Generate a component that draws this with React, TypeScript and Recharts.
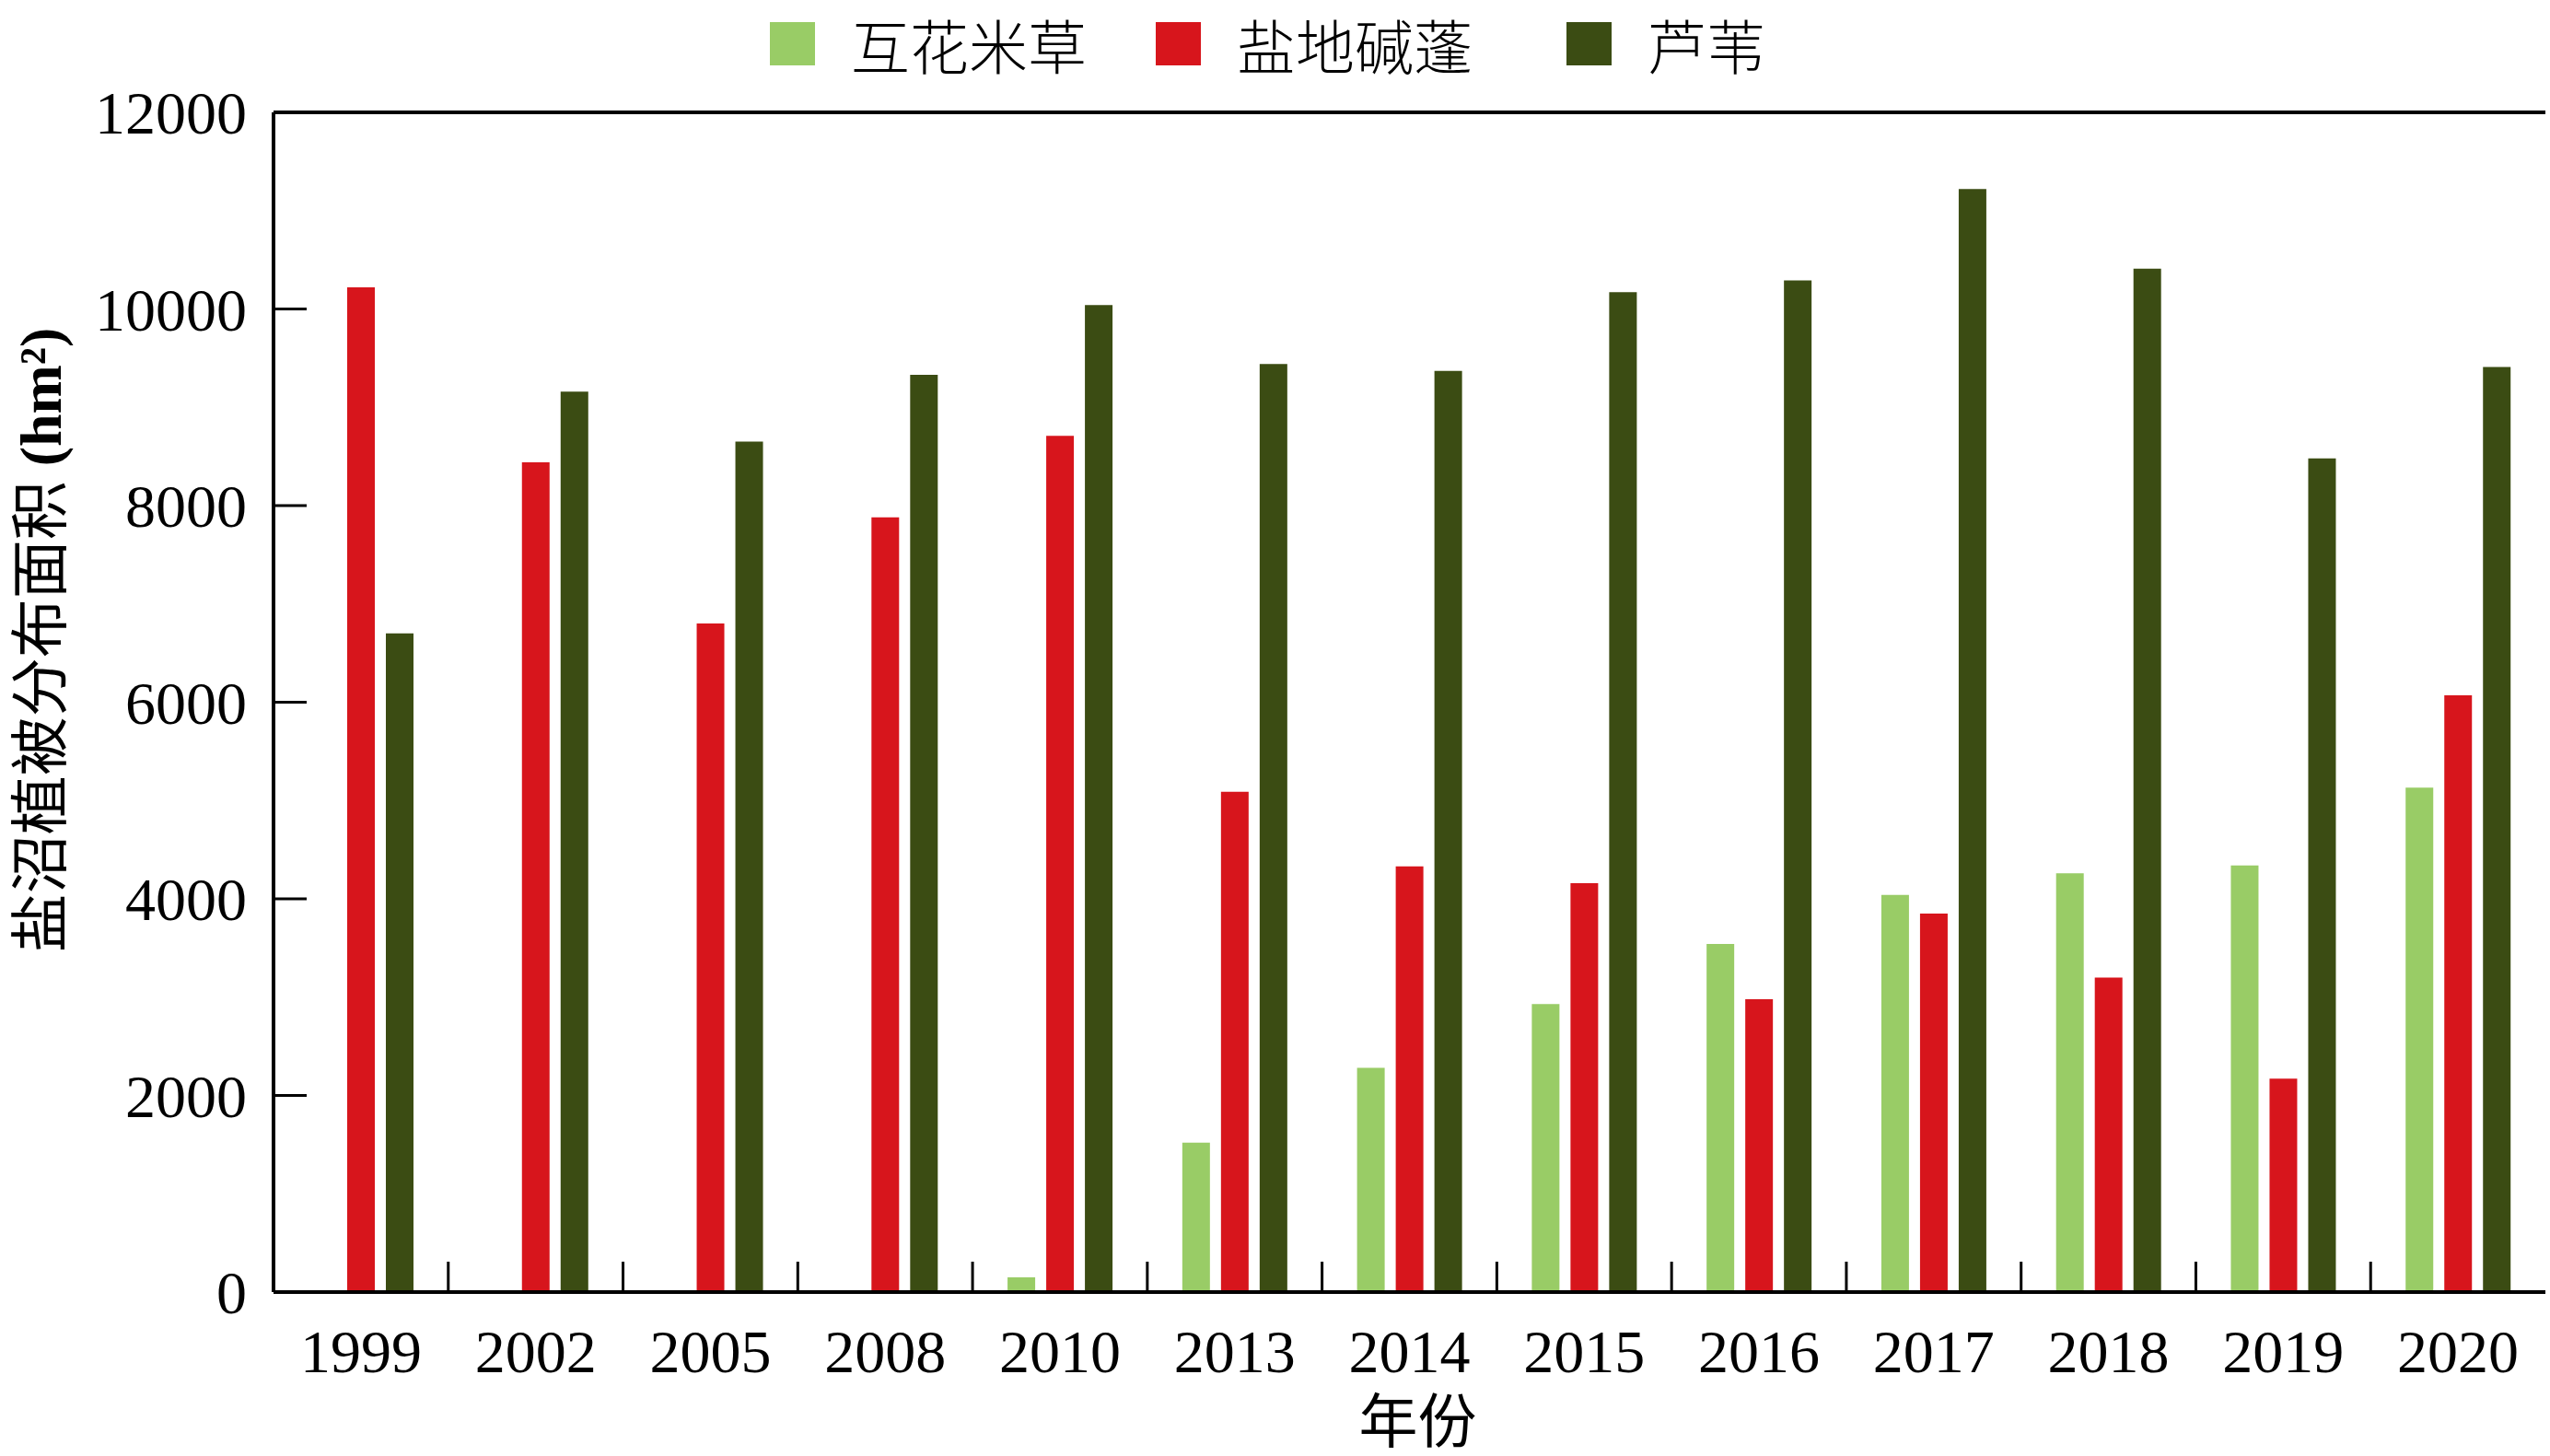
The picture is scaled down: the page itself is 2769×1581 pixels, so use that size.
import React from 'react';
import { BarChart, Bar, XAxis, YAxis, ReferenceLine } from 'recharts';

const categories = ['1999', '2002', '2005', '2008', '2010', '2013', '2014', '2015', '2016', '2017', '2018', '2019', '2020'];
const spartina = [0, 0, 0, 0, 150, 1520, 2280, 2930, 3540, 4040, 4260, 4340, 5130];
const suaeda = [10220, 8440, 6800, 7880, 8710, 5090, 4330, 4160, 2980, 3850, 3200, 2170, 6070];
const phragmites = [6700, 9160, 8650, 9330, 10040, 9440, 9370, 10170, 10290, 11220, 10410, 8480, 9410];
const yTicks = [0, 2000, 4000, 6000, 8000, 10000, 12000];

const seriesNames = ['互花米草', '盐地碱蓬', '芦苇'];
const seriesColors = ['#99CC66', '#D7151C', '#3B4C13'];

const data = categories.map((c, i) => ({
  year: c,
  s0: spartina[i],
  s1: suaeda[i],
  s2: phragmites[i],
}));

const W = 2769;
const H = 1581;
const MARGIN = { top: 122, right: 5, bottom: 0, left: 97 };
const YAXIS_W = 200;
const XAXIS_H = 178;
const PLOT_W = W - MARGIN.left - MARGIN.right - YAXIS_W;
const BAND = PLOT_W / categories.length;
const FONT = "'Liberation Serif', 'Times New Roman', 'Noto Sans CJK SC', serif";
const CJK = "'Noto Sans CJK SC', sans-serif";

const XTick = (props: any) => {
  const { x, y, payload } = props;
  const half = BAND / 2;
  return (
    <g>
      <line x1={x - half} x2={x - half} y1={y} y2={y - 33} stroke="#000" strokeWidth={3} />
      <text x={x} y={y + 87} textAnchor="middle" fontFamily={FONT} fontSize={66} fill="#000">
        {payload.value}
      </text>
    </g>
  );
};

const YTick = (props: any) => {
  const { x, y, payload } = props;
  return (
    <g>
      <line x1={x} x2={x + 36} y1={y} y2={y} stroke="#000" strokeWidth={3} />
      <text x={x - 29} y={y + 23} textAnchor="end" fontFamily={FONT} fontSize={66} fill="#000">
        {payload.value}
      </text>
    </g>
  );
};

const YLabel = (props: any) => {
  const { viewBox } = props;
  const cx = viewBox.x - 53;
  const cy = 695;
  return (
    <text
      x={cx}
      y={cy}
      transform={`rotate(-90, ${cx}, ${cy})`}
      textAnchor="middle"
      dominantBaseline="central"
      fontFamily={FONT}
      fontSize={64}
      fill="#000"
    >
      盐沼植被分布面积
      <tspan fontWeight="bold"> (hm²)</tspan>
    </text>
  );
};

const XLabel = (props: any) => {
  const { viewBox } = props;
  const cx = viewBox.x + viewBox.width / 2 + 9;
  return (
    <text x={cx} y={1566} textAnchor="middle" fontFamily={FONT} fontSize={64} fill="#000">
      年份
    </text>
  );
};

// legend layout (swatch left edges)
const legendX = [836, 1255, 1701];

const SvgLegend = () => (
  <g className="chart-legend">
    {seriesNames.map((n, i) => (
      <g key={n}>
        <rect x={legendX[i]} y={24} width={49} height={47} fill={seriesColors[i]} />
        <text
          x={legendX[i] + 88}
          y={75}
          fontFamily={CJK}
          fontWeight={300}
          fontSize={64}
          fill="#000"
        >
          {n}
        </text>
      </g>
    ))}
  </g>
);

export default function App() {
  return (
    <div style={{ position: 'absolute', left: 0, top: 0, width: W, height: H, background: '#fff' }}>
      <BarChart width={W} height={H} data={data} margin={MARGIN} barSize={30} barGap={12}>
        <XAxis
          dataKey="year"
          height={XAXIS_H}
          interval={0}
          tickSize={0}
          tickMargin={0}
          axisLine={{ stroke: '#000', strokeWidth: 4 }}
          tickLine={false}
          tick={<XTick />}
          label={<XLabel />}
        />
        <YAxis
          width={YAXIS_W}
          domain={[0, 12000]}
          ticks={yTicks}
          interval={0}
          tickSize={0}
          tickMargin={0}
          axisLine={{ stroke: '#000', strokeWidth: 4 }}
          tickLine={false}
          tick={<YTick />}
          label={<YLabel />}
        />
        <YAxis
          yAxisId="right"
          orientation="right"
          width={0}
          domain={[0, 12000]}
          tick={false}
          tickLine={false}
          axisLine={{ stroke: '#000', strokeWidth: 4 }}
        />
        <ReferenceLine y={12000} stroke="#000" strokeWidth={4} ifOverflow="visible" />
        <Bar dataKey="s0" name={seriesNames[0]} fill={seriesColors[0]} isAnimationActive={false} />
        <Bar dataKey="s1" name={seriesNames[1]} fill={seriesColors[1]} isAnimationActive={false} />
        <Bar dataKey="s2" name={seriesNames[2]} fill={seriesColors[2]} isAnimationActive={false} />
        <SvgLegend />
      </BarChart>
    </div>
  );
}
